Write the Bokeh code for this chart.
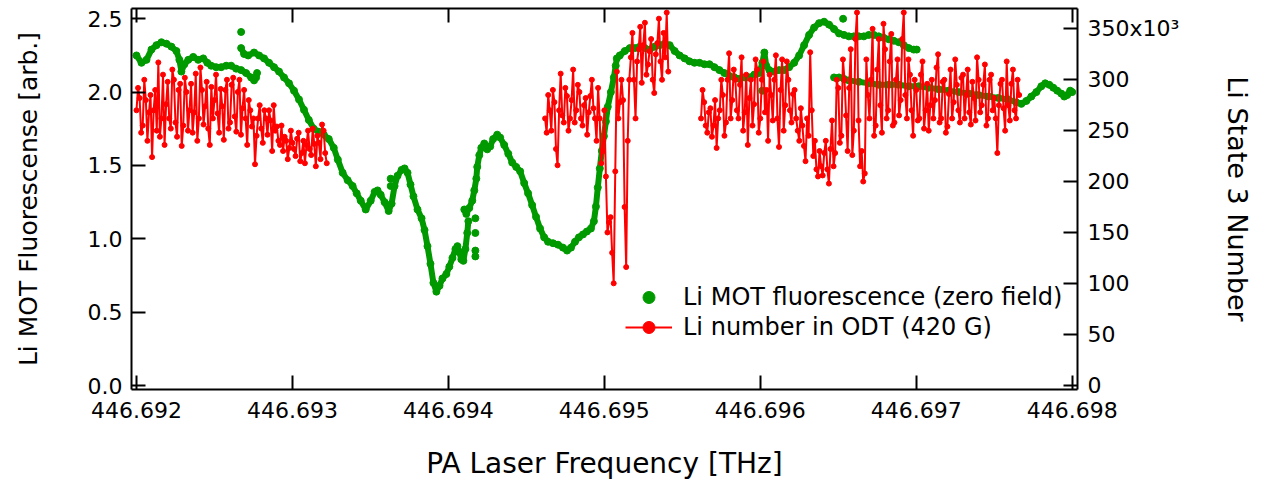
import math
from bokeh.plotting import figure
from bokeh.models import (Range1d, LinearAxis, FixedTicker, PrintfTickFormatter,
                          CustomJSTickFormatter, Legend, LegendItem)
from bokeh.embed import file_html
from bokeh.resources import INLINE

NAN = float("nan")
GREEN = "#009a00"
RED = "#ff0000"
FONT = "DejaVu Sans"

# ---------------- data ----------------
x_ticks = [446.692, 446.693, 446.694, 446.695, 446.696, 446.697, 446.698]
left_ticks = [0.0, 0.5, 1.0, 1.5, 2.0, 2.5]
right_ticks = [0, 50, 100, 150, 200, 250, 300, 350]   # x10^3

# Li MOT fluorescence (zero field), arb. units -- continuous scan pieces
mot_a_freq = [446.692000, 446.692032, 446.692064, 446.692096, 446.692128, 446.692160, 446.692192,
              446.692224, 446.692256, 446.692275, 446.692288, 446.692307, 446.692332, 446.692364,
              446.692396, 446.692428, 446.692454, 446.692479, 446.692511, 446.692543, 446.692575,
              446.692607, 446.692639, 446.692671, 446.692703, 446.692735, 446.692754, 446.692767,
              446.692773]
mot_a_fluor = [2.25, 2.20, 2.22, 2.29, 2.32, 2.34, 2.33, 2.31, 2.28, 2.22, 2.14, 2.19, 2.22, 2.24,
               2.22, 2.23, 2.20, 2.18, 2.17, 2.17, 2.18, 2.18, 2.16, 2.15, 2.13, 2.10, 2.08, 2.10,
               2.13]

mot_b_freq = [446.692671, 446.692690, 446.692716, 446.692754, 446.692786, 446.692818, 446.692850,
              446.692882, 446.692914, 446.692946, 446.692978, 446.693010, 446.693042, 446.693074,
              446.693105, 446.693137, 446.693169, 446.693201, 446.693233, 446.693265, 446.693291,
              446.693322, 446.693354, 446.693386, 446.693412, 446.693438, 446.693470, 446.693502,
              446.693527, 446.693546, 446.693566, 446.693591, 446.693617, 446.693636, 446.693655,
              446.693674, 446.693700, 446.693719, 446.693738, 446.693757, 446.693776, 446.693802,
              446.693828, 446.693847, 446.693866, 446.693885, 446.693904, 446.693923, 446.693943,
              446.693962, 446.693987, 446.694006, 446.694026, 446.694045, 446.694058, 446.694070,
              446.694083, 446.694096, 446.694109, 446.694121, 446.694128]
mot_b_fluor = [2.30, 2.26, 2.25, 2.27, 2.25, 2.23, 2.20, 2.17, 2.14, 2.10, 2.06, 2.01, 1.95, 1.88,
               1.81, 1.75, 1.73, 1.71, 1.68, 1.62, 1.54, 1.45, 1.40, 1.36, 1.31, 1.26, 1.20, 1.26,
               1.32, 1.33, 1.30, 1.25, 1.19, 1.24, 1.36, 1.43, 1.47, 1.48, 1.45, 1.37, 1.29, 1.20,
               1.14, 1.06, 0.95, 0.83, 0.70, 0.64, 0.68, 0.73, 0.76, 0.81, 0.87, 0.93, 0.95, 0.91,
               0.86, 0.85, 0.93, 1.04, 1.12]

mot_c_freq = [446.694102, 446.694115, 446.694134, 446.694153, 446.694166, 446.694179, 446.694185,
              446.694198, 446.694211, 446.694230, 446.694249, 446.694268, 446.694287, 446.694313,
              446.694332, 446.694358, 446.694384, 446.694409, 446.694435, 446.694460, 446.694486,
              446.694511, 446.694537, 446.694562, 446.694588, 446.694614, 446.694639, 446.694671,
              446.694703, 446.694735, 446.694761, 446.694786, 446.694812, 446.694837, 446.694863,
              446.694888, 446.694914, 446.694933, 446.694946, 446.694958, 446.694971, 446.694984,
              446.694997, 446.695010, 446.695022, 446.695042, 446.695061, 446.695073, 446.695080,
              446.695099, 446.695131, 446.695163, 446.695195, 446.695227, 446.695259, 446.695291,
              446.695323, 446.695355, 446.695387, 446.695419, 446.695451, 446.695483, 446.695515,
              446.695546, 446.695578, 446.695610, 446.695642, 446.695674, 446.695706, 446.695738,
              446.695770, 446.695802, 446.695834, 446.695866, 446.695898, 446.695930, 446.695962,
              446.695994, 446.696013, 446.696026, 446.696038, 446.696058, 446.696090, 446.696121,
              446.696153, 446.696185, 446.696217, 446.696249, 446.696281, 446.696313, 446.696345,
              446.696377, 446.696409, 446.696441, 446.696473, 446.696505, 446.696537, 446.696568,
              446.696600, 446.696632, 446.696664, 446.696696, 446.696728, 446.696760, 446.696792,
              446.696824, 446.696856, 446.696888, 446.696920, 446.696952, 446.696984, 446.697003]
mot_c_fluor = [1.20, 1.17, 1.21, 1.26, 1.33, 1.41, 1.49, 1.57, 1.62, 1.65, 1.61, 1.63, 1.68, 1.71,
               1.69, 1.64, 1.58, 1.52, 1.49, 1.46, 1.38, 1.31, 1.23, 1.15, 1.07, 1.01, 0.98, 0.97,
               0.96, 0.94, 0.92, 0.94, 0.98, 1.01, 1.03, 1.05, 1.07, 1.12, 1.22, 1.35, 1.48, 1.60,
               1.70, 1.80, 1.90, 2.00, 2.10, 2.18, 2.23, 2.25, 2.28, 2.30, 2.30, 2.31, 2.30, 2.29,
               2.31, 2.32, 2.33, 2.32, 2.28, 2.25, 2.23, 2.21, 2.20, 2.20, 2.19, 2.19, 2.17, 2.15,
               2.13, 2.11, 2.10, 2.09, 2.10, 2.10, 2.12, 2.13, 2.20, 2.27, 2.18, 2.15, 2.14, 2.15,
               2.15, 2.17, 2.20, 2.25, 2.32, 2.39, 2.44, 2.47, 2.48, 2.46, 2.43, 2.40, 2.39, 2.38,
               2.38, 2.38, 2.38, 2.39, 2.39, 2.38, 2.37, 2.36, 2.35, 2.34, 2.32, 2.30, 2.29, 2.29]

mot_d_freq = [446.696473, 446.696505, 446.696537, 446.696568, 446.696632, 446.696696, 446.696760,
              446.696824, 446.696888, 446.696952, 446.697016, 446.697080, 446.697144, 446.697208,
              446.697272, 446.697335, 446.697399, 446.697463, 446.697527, 446.697591, 446.697642,
              446.697674, 446.697706, 446.697738, 446.697770, 446.697802, 446.697827, 446.697853,
              446.697879, 446.697904, 446.697930, 446.697949, 446.697968, 446.697987, 446.698000]
mot_d_fluor = [2.10, 2.10, 2.09, 2.08, 2.07, 2.06, 2.05, 2.05, 2.05, 2.04, 2.04, 2.03, 2.02, 2.01,
               2.00, 1.99, 1.98, 1.97, 1.96, 1.95, 1.93, 1.92, 1.94, 1.97, 2.00, 2.04, 2.06, 2.05,
               2.03, 2.01, 1.99, 1.97, 1.98, 2.01, 2.00]

mot_iso_freq = [446.692671, 446.693630, 446.693630, 446.694173, 446.694173, 446.694173, 446.694173,
                446.696013, 446.696531]
mot_iso_fluor = [2.41, 1.41, 1.36, 1.14, 1.04, 0.92, 0.88, 2.01, 2.50]

# Li number in ODT (420 G), in units of 10^3
odt_a_freq = [
    446.69200, 446.69201, 446.69202, 446.69203, 446.69204, 446.69205, 446.69206, 446.69207, 446.69208, 446.69209,
    446.69210, 446.69211, 446.69212, 446.69213, 446.69214, 446.69215, 446.69216, 446.69217, 446.69218, 446.69219,
    446.69220, 446.69221, 446.69222, 446.69223, 446.69224, 446.69225, 446.69226, 446.69227, 446.69228, 446.69229,
    446.69230, 446.69231, 446.69232, 446.69233, 446.69234, 446.69235, 446.69236, 446.69237, 446.69238, 446.69239,
    446.69240, 446.69241, 446.69242, 446.69243, 446.69244, 446.69245, 446.69246, 446.69247, 446.69248, 446.69249,
    446.69250, 446.69251, 446.69252, 446.69253, 446.69254, 446.69255, 446.69256, 446.69257, 446.69258, 446.69259,
    446.69260, 446.69261, 446.69262, 446.69263, 446.69264, 446.69265, 446.69266, 446.69267, 446.69268, 446.69269,
    446.69270, 446.69271, 446.69272, 446.69273, 446.69274, 446.69275, 446.69276, 446.69277, 446.69278, 446.69279,
    446.69280, 446.69281, 446.69282, 446.69283, 446.69284, 446.69285, 446.69286, 446.69287, 446.69288, 446.69289,
    446.69290, 446.69291, 446.69292, 446.69293, 446.69294, 446.69295, 446.69296, 446.69297, 446.69298, 446.69299,
    446.69300, 446.69301, 446.69302, 446.69303, 446.69304, 446.69305, 446.69306, 446.69307, 446.69308, 446.69309,
    446.69310, 446.69311, 446.69312, 446.69313, 446.69314, 446.69315, 446.69316, 446.69317, 446.69318, 446.69319,
    446.69320, 446.69321, 446.69322]
odt_a_num = [
    270, 292, 282, 248, 255, 300, 280, 240, 268, 285,
    224, 270, 290, 250, 317, 244, 262, 305, 236, 276,
    298, 262, 252, 310, 300, 258, 244, 290, 296, 235,
    255, 302, 288, 250, 270, 296, 248, 268, 306, 240,
    262, 312, 290, 256, 274, 298, 252, 236, 293, 262,
    280, 305, 267, 248, 291, 274, 241, 290, 300, 252,
    258, 295, 302, 264, 249, 288, 300, 246, 272, 290,
    262, 236, 280, 270, 254, 262, 217, 245, 262, 275,
    252, 238, 270, 262, 246, 270, 260, 230, 275, 250,
    254, 240, 236, 255, 230, 244, 240, 222, 233, 250,
    238, 232, 225, 242, 248, 220, 228, 240, 218, 236,
    250, 232, 226, 252, 237, 215, 245, 238, 222, 256,
    250, 228, 218]

odt_b_freq = [
    446.69462, 446.69463, 446.69464, 446.69465, 446.69466, 446.69467, 446.69468, 446.69469, 446.69470, 446.69471,
    446.69472, 446.69473, 446.69474, 446.69475, 446.69476, 446.69477, 446.69478, 446.69479, 446.69480, 446.69481,
    446.69482, 446.69483, 446.69484, 446.69485, 446.69486, 446.69487, 446.69488, 446.69489, 446.69490, 446.69491,
    446.69492, 446.69493, 446.69494, 446.69495, 446.69496, 446.69497, 446.69498, 446.69499, 446.69500, 446.69501,
    446.69502, 446.69503, 446.69504, 446.69505, 446.69506, 446.69507, 446.69508, 446.69509, 446.69510, 446.69511,
    446.69512, 446.69513, 446.69514, 446.69515, 446.69516, 446.69517, 446.69518, 446.69519, 446.69520, 446.69521,
    446.69522, 446.69523, 446.69524, 446.69525, 446.69526, 446.69527, 446.69528, 446.69529, 446.69530, 446.69531,
    446.69532, 446.69533, 446.69534, 446.69535, 446.69536, 446.69537, 446.69538, 446.69539, 446.69540, 446.69541]
odt_b_num = [
    262, 248, 285, 270, 250, 290, 278, 232, 216, 270,
    306, 265, 258, 292, 284, 250, 262, 280, 310, 258,
    270, 295, 288, 262, 255, 275, 282, 246, 268, 284,
    300, 272, 262, 240, 292, 262, 218, 230, 270, 205,
    150, 160, 165, 130, 100, 210, 308, 262, 278, 300,
    280, 175, 116, 240, 300, 322, 346, 300, 262, 318,
    330, 352, 297, 334, 356, 305, 315, 328, 340, 300,
    287, 325, 336, 360, 318, 300, 346, 322, 366, 308]

odt_c_freq = [
    446.69562, 446.69563, 446.69564, 446.69565, 446.69566, 446.69567, 446.69568, 446.69569, 446.69570, 446.69571,
    446.69572, 446.69573, 446.69574, 446.69575, 446.69576, 446.69577, 446.69578, 446.69579, 446.69580, 446.69581,
    446.69582, 446.69583, 446.69584, 446.69585, 446.69586, 446.69587, 446.69588, 446.69589, 446.69590, 446.69591,
    446.69592, 446.69593, 446.69594, 446.69595, 446.69596, 446.69597, 446.69598, 446.69599, 446.69600, 446.69601,
    446.69602, 446.69603, 446.69604, 446.69605, 446.69606, 446.69607, 446.69608, 446.69609, 446.69610, 446.69611,
    446.69612, 446.69613, 446.69614, 446.69615, 446.69616, 446.69617, 446.69618, 446.69619, 446.69620, 446.69621,
    446.69622, 446.69623, 446.69624, 446.69625, 446.69626, 446.69627, 446.69628, 446.69629, 446.69630, 446.69631,
    446.69632, 446.69633, 446.69634, 446.69635, 446.69636, 446.69637, 446.69638, 446.69639, 446.69640, 446.69641,
    446.69642, 446.69643, 446.69644, 446.69645, 446.69646, 446.69647, 446.69648, 446.69649, 446.69650, 446.69651,
    446.69652, 446.69653, 446.69654, 446.69655, 446.69656, 446.69657, 446.69658, 446.69659, 446.69660, 446.69661,
    446.69662, 446.69663, 446.69664, 446.69665, 446.69666, 446.69667, 446.69668, 446.69669, 446.69670, 446.69671,
    446.69672, 446.69673, 446.69674, 446.69675, 446.69676, 446.69677, 446.69678, 446.69679, 446.69680, 446.69681,
    446.69682, 446.69683, 446.69684, 446.69685, 446.69686, 446.69687, 446.69688, 446.69689, 446.69690, 446.69691,
    446.69692, 446.69693, 446.69694, 446.69695, 446.69696, 446.69697, 446.69698, 446.69699, 446.69700, 446.69701,
    446.69702, 446.69703, 446.69704, 446.69705, 446.69706, 446.69707, 446.69708, 446.69709, 446.69710, 446.69711,
    446.69712, 446.69713, 446.69714, 446.69715, 446.69716, 446.69717, 446.69718, 446.69719, 446.69720, 446.69721,
    446.69722, 446.69723, 446.69724, 446.69725, 446.69726, 446.69727, 446.69728, 446.69729, 446.69730, 446.69731,
    446.69732, 446.69733, 446.69734, 446.69735, 446.69736, 446.69737, 446.69738, 446.69739, 446.69740, 446.69741,
    446.69742, 446.69743, 446.69744, 446.69745, 446.69746, 446.69747, 446.69748, 446.69749, 446.69750, 446.69751,
    446.69752, 446.69753, 446.69754, 446.69755, 446.69756, 446.69757, 446.69758, 446.69759, 446.69760, 446.69761,
    446.69762, 446.69763, 446.69764, 446.69765, 446.69766]
odt_c_num = [
    262, 290, 278, 255, 248, 268, 272, 244, 255, 280,
    233, 262, 270, 300, 285, 245, 258, 300, 326, 262,
    280, 310, 300, 270, 262, 295, 322, 250, 268, 305,
    236, 282, 300, 255, 276, 320, 310, 248, 262, 300,
    318, 268, 290, 240, 305, 285, 260, 300, 324, 262,
    234, 290, 320, 250, 275, 318, 300, 270, 258, 286,
    290, 262, 250, 240, 272, 255, 235, 220, 262, 245,
    327, 270, 225, 240, 212, 205, 230, 215, 206, 228,
    240, 212, 198, 232, 260, 215, 228, 300, 292, 238,
    245, 320, 300, 265, 230, 292, 330, 226, 250, 340,
    366, 260, 215, 230, 200, 208, 320, 285, 262, 300,
    350, 245, 255, 310, 340, 275, 248, 355, 330, 262,
    270, 318, 345, 255, 258, 300, 320, 265, 280, 340,
    366, 285, 262, 320, 305, 270, 245, 300, 290, 260,
    262, 305, 318, 252, 270, 296, 250, 275, 300, 262,
    280, 312, 325, 258, 262, 298, 300, 248, 254, 286,
    310, 262, 278, 320, 295, 270, 258, 302, 305, 262,
    285, 310, 268, 256, 298, 282, 260, 322, 300, 268,
    275, 295, 315, 255, 262, 300, 305, 270, 282, 262,
    228, 275, 296, 300, 272, 250, 318, 275, 260, 296,
    310, 270, 262, 300, 285]


def joined(*segments):
    xs, ys = [], []
    for i, (sx, sy) in enumerate(segments):
        n = min(len(sx), len(sy))
        if i:
            xs.append(NAN)
            ys.append(NAN)
        xs += list(sx[:n])
        ys += list(sy[:n])
    return xs, ys


mot_line_x, mot_line_y = joined((mot_a_freq, mot_a_fluor), (mot_b_freq, mot_b_fluor),
                                (mot_c_freq, mot_c_fluor), (mot_d_freq, mot_d_fluor))
mot_pts_x = mot_a_freq + mot_b_freq + mot_c_freq + mot_d_freq + mot_iso_freq
mot_pts_y = mot_a_fluor + mot_b_fluor + mot_c_fluor + mot_d_fluor + mot_iso_fluor
odt_x, odt_y = joined((odt_a_freq, odt_a_num), (odt_b_freq, odt_b_num), (odt_c_freq, odt_c_num))

# ---------------- figure ----------------
p = figure(width=1263, height=482, output_backend="svg", toolbar_location=None,
           x_range=Range1d(446.691968, 446.698034), y_range=Range1d(-0.027, 2.570),
           min_border_left=131, min_border_right=186, min_border_top=8, min_border_bottom=93)
p.extra_y_ranges = {"num": Range1d(-4.3, 370.0)}
p.outline_line_color = None
p.xgrid.visible = False
p.ygrid.visible = False
p.background_fill_color = "white"
p.border_fill_color = "white"


def style(ax):
    ax.axis_line_width = 2
    ax.axis_line_color = "black"
    ax.major_tick_line_width = 2
    ax.major_tick_line_color = "black"
    ax.major_tick_in = 14
    ax.major_tick_out = 0
    ax.minor_tick_line_color = None
    ax.major_label_text_font = FONT
    ax.major_label_text_font_size = "22px"
    ax.major_label_text_color = "black"
    ax.axis_label_text_font = FONT
    ax.axis_label_text_font_style = "normal"
    ax.axis_label_text_color = "black"


xa = p.xaxis[0]
style(xa)
xa.ticker = FixedTicker(ticks=x_ticks)
xa.formatter = PrintfTickFormatter(format="%.3f")
xa.major_label_standoff = 12
xa.axis_label = "PA Laser Frequency [THz]"
xa.axis_label_text_font_size = "28px"
xa.axis_label_standoff = 26

ya = p.yaxis[0]
style(ya)
ya.ticker = FixedTicker(ticks=left_ticks)
ya.formatter = PrintfTickFormatter(format="%.1f")
ya.major_label_standoff = 9
ya.axis_label = "Li MOT Fluorescense [arb.]"
ya.axis_label_text_font_size = "25px"
ya.axis_label_standoff = 42

top = LinearAxis(ticker=FixedTicker(ticks=x_ticks))
style(top)
top.major_label_text_font_size = "0px"
top.major_label_text_color = None
top.major_label_standoff = 0
p.add_layout(top, "above")

right = LinearAxis(y_range_name="num", ticker=FixedTicker(ticks=right_ticks),
                   formatter=CustomJSTickFormatter(
                       code="return tick == 350 ? '350x10\u00b3' : tick.toFixed(0);"))
style(right)
right.major_label_standoff = 10
right.axis_label = "Li State 3 Number"
right.axis_label_text_font_size = "27px"
right.axis_label_standoff = 40
p.add_layout(right, "right")

# ---------------- glyphs ----------------
p.line(mot_line_x, mot_line_y, line_width=6, line_color=GREEN)
g_pts = p.scatter(mot_pts_x, mot_pts_y, marker="circle", size=7,
                  fill_color=GREEN, line_color=GREEN)

r_line = p.line(odt_x, odt_y, line_width=2, line_color=RED, y_range_name="num")
r_pts = p.scatter(odt_x, odt_y, marker="circle", size=5, fill_color=RED, line_color=RED,
                  y_range_name="num")

legend = Legend(items=[LegendItem(label="Li MOT fluorescence (zero field)", renderers=[g_pts]),
                       LegendItem(label="Li number in ODT (420 G)", renderers=[r_line, r_pts])],
                location=(494, 47))
legend.padding = 0
legend.margin = 0
legend.spacing = 0
legend.border_line_color = None
legend.background_fill_alpha = 0
legend.glyph_width = 47
legend.glyph_height = 30
legend.label_height = 30
legend.label_standoff = 11
legend.label_text_font = FONT
legend.label_text_font_size = "24px"
legend.label_text_color = "black"
p.add_layout(legend)

open("out.html", "w").write(file_html(p, INLINE))
